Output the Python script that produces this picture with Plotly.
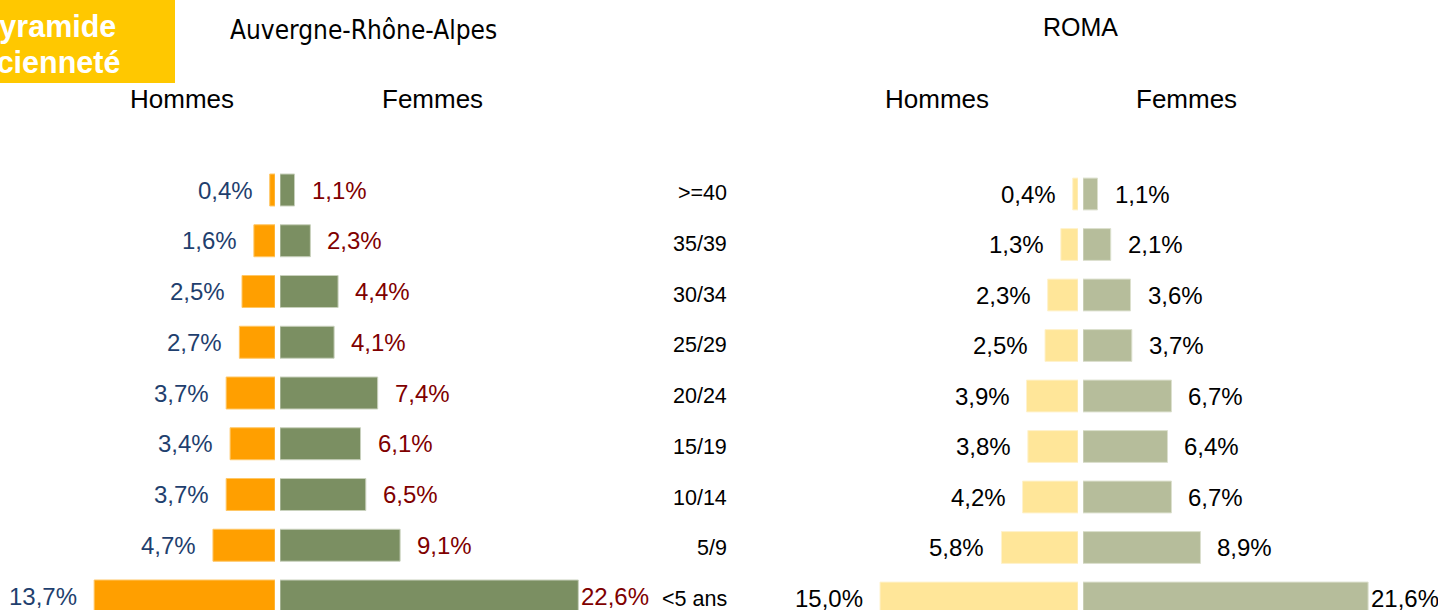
import plotly.graph_objects as go

W, H = 1438, 610

categories = [">=40", "35/39", "30/34", "25/29", "20/24", "15/19", "10/14", "5/9", "<5 ans"]
ara_hommes = [0.4, 1.6, 2.5, 2.7, 3.7, 3.4, 3.7, 4.7, 13.7]
ara_femmes = [1.1, 2.3, 4.4, 4.1, 7.4, 6.1, 6.5, 9.1, 22.6]
roma_hommes = [0.4, 1.3, 2.3, 2.5, 3.9, 3.8, 4.2, 5.8, 15.0]
roma_femmes = [1.1, 2.1, 3.6, 3.7, 6.7, 6.4, 6.7, 8.9, 21.6]

title_left = "Auvergne-Rhône-Alpes"
title_right = "ROMA"
box_lines = ["Pyramide", "Ancienneté"]

PX = 13.2  # pixels per percent


def px(v):
    return v / W


def fmt(v):
    return f"{v:.1f}%".replace(".", ",")


fig = go.Figure()

BW = 0.63
fig.add_trace(go.Bar(x=ara_hommes, y=categories, orientation="h", xaxis="x", yaxis="y",
                     width=BW, marker=dict(color="#FF9F00", line=dict(color="#FFC766", width=1)),
                     hoverinfo="skip"))
fig.add_trace(go.Bar(x=ara_femmes, y=categories, orientation="h", xaxis="x2", yaxis="y",
                     width=BW, marker=dict(color="#7B8F62", line=dict(color="#C9D1BD", width=1)),
                     hoverinfo="skip"))
fig.add_trace(go.Bar(x=roma_hommes, y=categories, orientation="h", xaxis="x3", yaxis="y2",
                     width=BW, marker=dict(color="#FFE699", line=dict(color="#FFF2CC", width=1)),
                     hoverinfo="skip"))
fig.add_trace(go.Bar(x=roma_femmes, y=categories, orientation="h", xaxis="x4", yaxis="y2",
                     width=BW, marker=dict(color="#B6BD9B", line=dict(color="#DCE0CE", width=1)),
                     hoverinfo="skip"))

hide = dict(visible=False, fixedrange=True)

m_left_r, f_left_l = 275, 280
m_right_r, f_right_l = 1078, 1083

fig.update_layout(
    xaxis=dict(domain=[0, px(m_left_r)], range=[m_left_r / PX, 0], anchor="y", **hide),
    xaxis2=dict(domain=[px(f_left_l), px(700)], range=[0, (700 - f_left_l) / PX], anchor="y", **hide),
    xaxis3=dict(domain=[px(700), px(m_right_r)], range=[(m_right_r - 700) / PX, 0], anchor="y2", **hide),
    xaxis4=dict(domain=[px(f_right_l), 1], range=[0, (W - f_right_l) / PX], anchor="y2", **hide),
)

sp_l, c0_l = 50.75, 190
sp_r, c0_r = 50.5, 194
T_l = -c0_l / sp_l
T_r = -c0_r / sp_r
fig.update_layout(
    yaxis=dict(domain=[0, 1], range=[T_l + H / sp_l, T_l], type="category",
               categoryorder="array", categoryarray=categories, anchor="x", **hide),
    yaxis2=dict(domain=[0, 1], range=[T_r + H / sp_r, T_r], type="category",
                categoryorder="array", categoryarray=categories, anchor="x3", **hide),
)

ann = []
LAB = dict(family="Liberation Sans, Arial, sans-serif", size=24)
GAP = 15


def add_labels(vals, xref, yref, side, color):
    vmax = max(vals)
    for c, v in zip(categories, vals):
        if side == "left":
            ann.append(dict(x=v, y=c, xref=xref, yref=yref, text=fmt(v), showarrow=False,
                            xanchor="right", yanchor="middle", xshift=-GAP,
                            font=dict(LAB, color=color)))
        else:
            shift = GAP if v < vmax else 1
            ann.append(dict(x=v, y=c, xref=xref, yref=yref, text=fmt(v), showarrow=False,
                            xanchor="left", yanchor="middle", xshift=shift,
                            font=dict(LAB, color=color)))


add_labels(ara_hommes, "x", "y", "left", "#1F3F6E")
add_labels(ara_femmes, "x2", "y", "right", "#7F0000")
add_labels(roma_hommes, "x3", "y2", "left", "#000000")
add_labels(roma_femmes, "x4", "y2", "right", "#000000")

for c in categories:
    ann.append(dict(x=px(729), y=c, xref="paper", yref="y", text=c, showarrow=False,
                    xanchor="right", yanchor="middle", yshift=-3,
                    font=dict(family="Liberation Sans, Arial, sans-serif", size=21.5, color="#000000")))


def py(p):
    return 1 - p / H


TITLE_FONT = dict(family="DejaVu Sans Condensed, DejaVu Sans, sans-serif", size=26, color="#000000")
ann.append(dict(x=px(363.5), y=py(30), xref="paper", yref="paper", text=title_left, showarrow=False,
                xanchor="center", yanchor="middle", font=TITLE_FONT))
ann.append(dict(x=px(1080.5), y=py(27), xref="paper", yref="paper", text=title_right, showarrow=False,
                xanchor="center", yanchor="middle",
                font=dict(family="Liberation Sans, Arial, sans-serif", size=25, color="#000000")))

HF = dict(family="Liberation Sans, Arial, sans-serif", size=26, color="#000000")
for xc, t in [(182.5, "Hommes"), (432, "Femmes"), (936.5, "Hommes"), (1186, "Femmes")]:
    ann.append(dict(x=px(xc), y=py(99), xref="paper", yref="paper", text=t, showarrow=False,
                    xanchor="center", yanchor="middle", font=HF))

BOXF = dict(family="Liberation Sans, Arial, sans-serif", size=30.5, color="#FFFFFF")
ann.append(dict(x=px(118), y=py(26), xref="paper", yref="paper", text="<b>" + box_lines[0] + "</b>",
                showarrow=False, xanchor="right", yanchor="middle", font=BOXF))
ann.append(dict(x=px(122), y=py(62), xref="paper", yref="paper", text="<b>" + box_lines[1] + "</b>",
                showarrow=False, xanchor="right", yanchor="middle", font=BOXF))

fig.update_layout(
    width=W, height=H,
    margin=dict(l=0, r=0, t=0, b=0),
    paper_bgcolor="#FFFFFF", plot_bgcolor="rgba(0,0,0,0)",
    showlegend=False, barmode="overlay",
    annotations=ann,
    shapes=[dict(type="rect", xref="paper", yref="paper", x0=0, x1=px(175), y0=py(83), y1=1,
                 fillcolor="#FFC800", line=dict(width=0), layer="below")],
)

fig.write_html("out.html", config={"displayModeBar": False},
               post_script="document.body.style.margin='0';document.body.style.overflow='hidden';")
